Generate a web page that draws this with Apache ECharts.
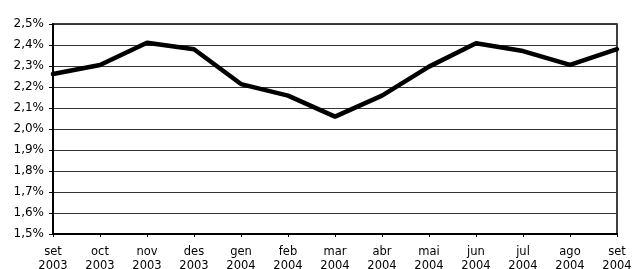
<!DOCTYPE html>
<html><head><meta charset="utf-8">
<script src="https://cdn.jsdelivr.net/npm/echarts@6/dist/echarts.min.js"></script>
<style>html,body{margin:0;padding:0;background:#fff}#c{width:634px;height:269px}</style>
</head><body><div id="c"></div>
<script>
const categories = ["set\n2003","oct\n2003","nov\n2003","des\n2003","gen\n2004","feb\n2004","mar\n2004","abr\n2004","mai\n2004","jun\n2004","jul\n2004","ago\n2004","set\n2004"];
const values = [2.262, 2.305, 2.411, 2.380, 2.214, 2.159, 2.059, 2.159, 2.297, 2.408, 2.371, 2.305, 2.380];
const yMin = 1.5, yMax = 2.5, yStep = 0.1;

const chart = echarts.init(document.getElementById('c'));
chart.setOption({
  animation: false,
  grid: {left: 53, right: 17, top: 24, bottom: 35, show: true, borderColor: '#000', borderWidth: 1.5,
    containLabel: false, outerBoundsMode: 'none'},
  xAxis: {
    type: 'category', data: categories, boundaryGap: false,
    axisLine: {lineStyle: {color: '#000', width: 2}},
    axisTick: {show: true, length: 3, lineStyle: {color: '#000'}},
    axisLabel: {margin: 11, lineHeight: 14, interval: 0, fontFamily: 'DejaVu Sans', fontSize: 11.5, color: '#000'},
    splitLine: {show: false}
  },
  yAxis: {
    type: 'value', min: yMin, max: yMax, interval: yStep,
    axisLine: {show: true, lineStyle: {color: '#000', width: 2}},
    axisTick: {show: true, length: 4, lineStyle: {color: '#000'}},
    axisLabel: {margin: 9, fontFamily: 'DejaVu Sans', fontSize: 12, color: '#000',
      formatter: v => v.toFixed(1).replace('.', ',') + '%'},
    splitLine: {show: true, lineStyle: {color: '#333', width: 1}}
  },
  series: [{
    type: 'line', data: values, symbol: 'none',
    lineStyle: {color: '#000', width: 4.5, join: 'round', cap: 'round'}
  }]
});
</script></body></html>
